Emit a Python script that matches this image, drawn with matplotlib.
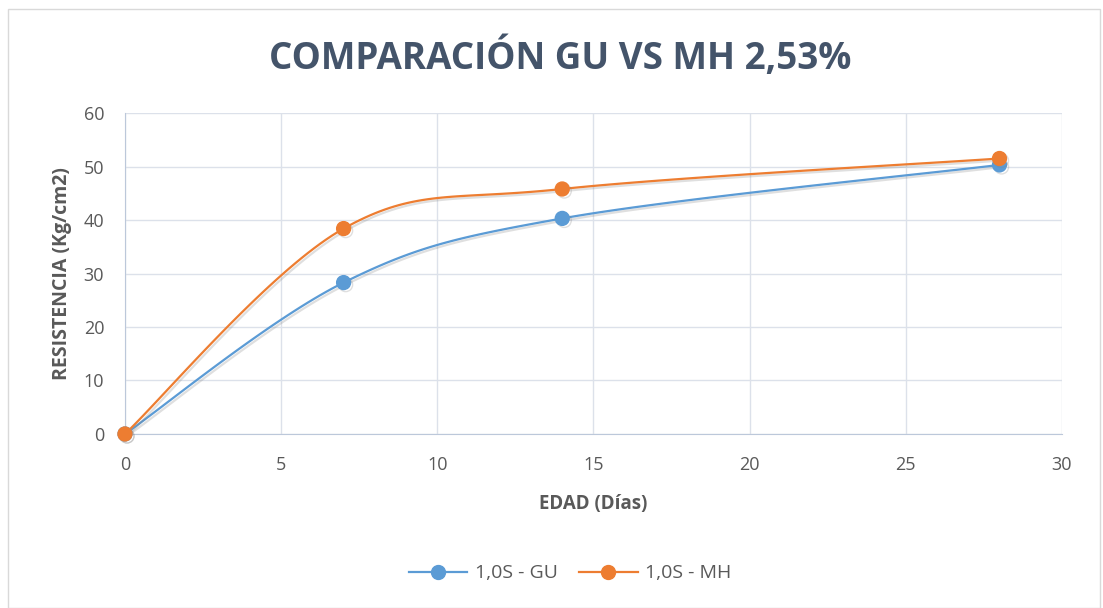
import numpy as np
import matplotlib.pyplot as plt
from matplotlib.lines import Line2D
from matplotlib.patches import Rectangle
import matplotlib.patheffects as pe

plt.rcParams['font.family'] = ['Open Sans', 'DejaVu Sans']

# datos
dias = [0, 7, 14, 28]
gu = [0, 28.3, 40.3, 50.3]
mh = [0, 38.4, 45.8, 51.5]
series = ['1,0S - GU', '1,0S - MH']
colores = ['#5B9BD5', '#ED7D31']


def suavizar(x, y, n=40):
    # curva suavizada tipo Excel (Catmull-Rom -> Bezier)
    p = np.column_stack([x, y]).astype(float)
    p = np.vstack([p[0], p, p[-1]])
    out = []
    t = np.linspace(0, 1, n)[:, None]
    for i in range(1, len(p) - 2):
        p0, p1, p2, p3 = p[i - 1], p[i], p[i + 1], p[i + 2]
        c1 = p1 + (p2 - p0) / 6
        c2 = p2 - (p3 - p1) / 6
        seg = ((1 - t) ** 3) * p1 + 3 * ((1 - t) ** 2) * t * c1 + 3 * (1 - t) * t ** 2 * c2 + t ** 3 * p2
        out.append(seg)
    out = np.vstack(out)
    return out[:, 0], out[:, 1]


fig = plt.figure(figsize=(11.03, 6.08), dpi=100)
fig.patches.append(Rectangle((0.007, 0.0), 0.99, 0.985, transform=fig.transFigure,
                             fill=False, edgecolor='#D9D9D9', lw=1))
ax = fig.add_axes([0.1133, 0.2862, 0.8495, 0.5279])

sombra = [pe.SimpleLineShadow(offset=(1.5, -1.5), shadow_color='#808080', alpha=0.25), pe.Normal()]
for ys, c in zip([gu, mh], colores):
    sx, sy = suavizar(dias, ys)
    ax.plot(sx, sy, color=c, lw=1.6, path_effects=sombra, zorder=3)
    ax.plot(dias, ys, 'o', color=c, ms=10, path_effects=sombra, zorder=4, clip_on=False)

ax.set_xlim(0, 30)
ax.set_ylim(0, 60)
ax.set_xticks(range(0, 31, 5))
ax.set_yticks(range(0, 61, 10))
ax.grid(True, color='#DCE1EA', lw=1)
ax.set_axisbelow(True)
for s in ['top', 'right']:
    ax.spines[s].set_visible(False)
for s in ['left', 'bottom']:
    ax.spines[s].set_color('#BCC8DA')
ax.tick_params(length=0, labelsize=13, colors='#595959')
ax.tick_params(axis='x', pad=16)
ax.tick_params(axis='y', pad=15)

ax.set_xlabel('EDAD (Días)', fontsize=13.5, fontweight='bold', color='#595959', labelpad=14)
ax.set_ylabel('RESISTENCIA (Kg/cm2)', fontsize=14, fontweight='bold', color='#595959', labelpad=8)
fig.text(0.508, 0.905, 'COMPARACIÓN GU VS MH 2,53%', ha='center', va='center',
         fontsize=26.5, fontweight='bold', color='#44546A')

handles = [Line2D([], [], color=c, lw=1.6, marker='o', ms=10) for c in colores]
fig.legend(handles, series, loc='center', bbox_to_anchor=(0.517, 0.057), ncol=2, frameon=False,
           fontsize=14, labelcolor='#595959', handlelength=3, handletextpad=0.4, columnspacing=1.1)

fig.savefig('out.png', dpi=100)
